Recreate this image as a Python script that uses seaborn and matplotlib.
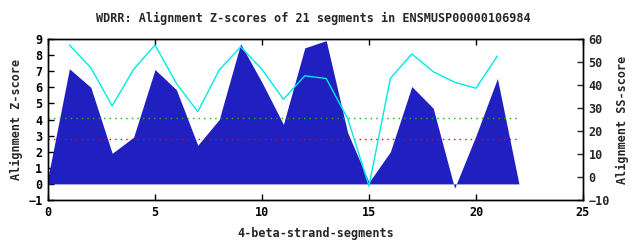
import matplotlib
matplotlib.use("Agg")
import matplotlib.pyplot as plt
import seaborn as sns
import numpy as np
import pandas as pd

# ---- data ----
seg_x = list(range(0, 23))
z_scores = [0.4, 7.15, 6.0, 1.9, 2.9, 7.1, 5.85, 2.4, 4.0, 8.7, 6.3, 3.7,
            8.45, 8.9, 3.2, 0.1, 2.0, 6.05, 4.7, -0.27, 3.0, 6.55, 0.05]
ss_x = list(range(1, 22))
ss_scores = [57.4, 47.5, 30.9, 46.8, 57.4, 40.7, 28.4, 46.5, 56.6, 46.8, 33.8,
             44.0, 42.8, 25.5, -3.9, 42.9, 53.5, 45.8, 41.2, 38.6, 52.6]
green_level = 4.07
red_level = 2.78
line_x = [0, 22]

title = "WDRR: Alignment Z-scores of 21 segments in ENSMUSP00000106984"
xlabel = "4-beta-strand-segments"
ylabel_left = "Alignment Z-score"
ylabel_right = "Alignment SS-score"

sns.set_style("white")
plt.rcParams['font.family'] = ['DejaVu Sans Mono', 'DejaVu Sans']
plt.rcParams['font.weight'] = 'bold'
plt.rcParams['font.size'] = 8.5

df_z = pd.DataFrame({"x": seg_x, "z": z_scores})
df_ss = pd.DataFrame({"x": ss_x, "ss": ss_scores})

fig = plt.figure(figsize=(6.4, 2.4), dpi=100)
ax = fig.add_axes([48/640, 1-200/240, (583-48)/640, (200-39)/240])

ax.fill_between(df_z["x"], df_z["z"], 0, color="#2020c0", linewidth=0, zorder=2)
ax.plot(line_x, [green_level]*2, color="#00c000", linestyle=(0, (1, 3)), linewidth=1, zorder=3)
ax.plot(line_x, [red_level]*2, color="#e00000", linestyle=(0, (1, 3)), linewidth=1, zorder=3)

ax.set_xlim(0, 25)
ax.set_ylim(-1, 9)
ax.set_xticks(range(0, 26, 5))
ax.set_yticks(range(-1, 10))
ax.set_xlabel(xlabel, fontweight='bold', labelpad=6)
ax.set_ylabel(ylabel_left, fontweight='bold', labelpad=4)

ax2 = ax.twinx()
sns.lineplot(data=df_ss, x="x", y="ss", ax=ax2, color="#00e8e8", linewidth=1, zorder=4)
ax2.set_ylim(-10, 60)
ax2.set_yticks(range(-10, 61, 10))
ax2.set_ylabel(ylabel_right, fontweight='bold', labelpad=4)
ax2.set_xlabel("")

for a in (ax, ax2):
    for s in a.spines.values():
        s.set_visible(True)
        s.set_color("black")
        s.set_linewidth(1)
ax.tick_params(axis='both', direction='in', length=4, width=1, top=True, bottom=True,
               left=True, right=False, labelsize=8.5, pad=4, colors='black')
ax2.tick_params(axis='y', direction='in', length=4, width=1, right=True, labelsize=8.5, pad=4)
for lbl in ax.get_xticklabels() + ax.get_yticklabels() + ax2.get_yticklabels():
    lbl.set_fontweight('bold')

fig.suptitle(title, y=1-18/240, va='center', fontsize=8.5, fontweight='bold', x=0.49)

fig.savefig("out.png", dpi=100)
